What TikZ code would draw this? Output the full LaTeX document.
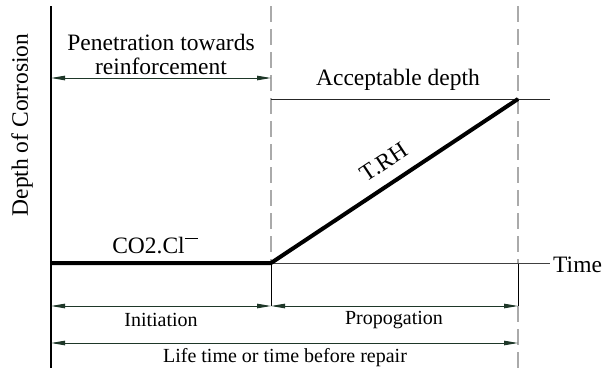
\documentclass[tikz,border=0pt]{standalone}
\usepackage{fontspec}
\setmainfont{Liberation Serif}
\usetikzlibrary{arrows.meta}
\definecolor{arrcol}{RGB}{30,55,40}
\definecolor{dashcol}{RGB}{170,170,170}
\tikzset{
  big/.style={font=\fontsize{23.5}{27}\selectfont, inner sep=0pt},
  small/.style={font=\fontsize{20}{24}\selectfont, inner sep=0pt},
  dim/.style={draw=arrcol, line width=0.9pt, {Triangle[length=14pt,width=4.5pt,fill=arrcol]}-{Triangle[length=14pt,width=4.5pt,fill=arrcol]}},
  guide/.style={draw=dashcol, line width=1.2pt, dash pattern=on 16pt off 7pt},
  thin/.style={draw=black, line width=1pt},
  curve/.style={draw=black, line width=4pt, line join=round}
}
\begin{document}
\begin{tikzpicture}[x=1pt,y=-1pt]
\useasboundingbox (0,0) rectangle (605,368);
% key points
\coordinate (ytop) at (51,6);
\coordinate (ybot) at (51,368);
\coordinate (o) at (51,263);
\coordinate (m) at (271,263);
\coordinate (mtop) at (271,6);
\coordinate (mdim) at (271,306);
\coordinate (r) at (518,99);
\coordinate (rtop) at (518,6);
\coordinate (rbase) at (518,263);
\coordinate (rdim) at (518,306);
\coordinate (rbot) at (518,368);
\coordinate (tend) at (550,263);
\coordinate (aend) at (550,99);
\coordinate (pl) at (51,78);
\coordinate (pr) at (271,78);
\coordinate (il) at (51,306);
\coordinate (ll) at (51,343);
\coordinate (lr) at (518,343);
\coordinate (astart) at (271,99);
% guides
\draw[guide] (mtop) -- (m);
\draw[guide] (rtop) -- (rbase);
\draw[guide] (rdim) -- (rbot);
\draw[thin] (m) -- (mdim);
\draw[thin] (rbase) -- (rdim);
% axes
\draw[thin, line width=1.2pt] (ytop) -- (ybot);
\draw[draw=black!75, line width=1pt] (o) -- (tend);
\draw[draw=black!85, line width=1pt] (astart) -- (aend);
% curve
\draw[curve] (o) -- (m) -- (r);
% dimension arrows
\draw[dim] (pl) -- (pr);
\draw[dim] (il) -- (mdim);
\draw[dim] (mdim) -- (rdim);
\draw[dim] (ll) -- (lr);
% labels
\node[big, rotate=90] (ylab) at (22,125) {Depth of Corrosion};
\node[big] (pen1) at (161,42) {Penetration towards};
\node[big] (pen2) at (161,66) {reinforcement};
\node[big] (acc) at (398,80) {Acceptable depth};
\node[big, anchor=west] (time) at (553,265) {Time};
\node[big] (co) at (155,246) {CO2.Cl\raisebox{0.62em}{\rule{0.55em}{1pt}}};
\node[big, rotate=33.6] (trh) at (384,162) {T.RH};
\node[small] (ini) at (161,320) {Initiation};
\node[small] (pro) at (394,320) {Propogation};
\node[small] (life) at (285,358) {Life time or time before repair};
\end{tikzpicture}
\end{document}
